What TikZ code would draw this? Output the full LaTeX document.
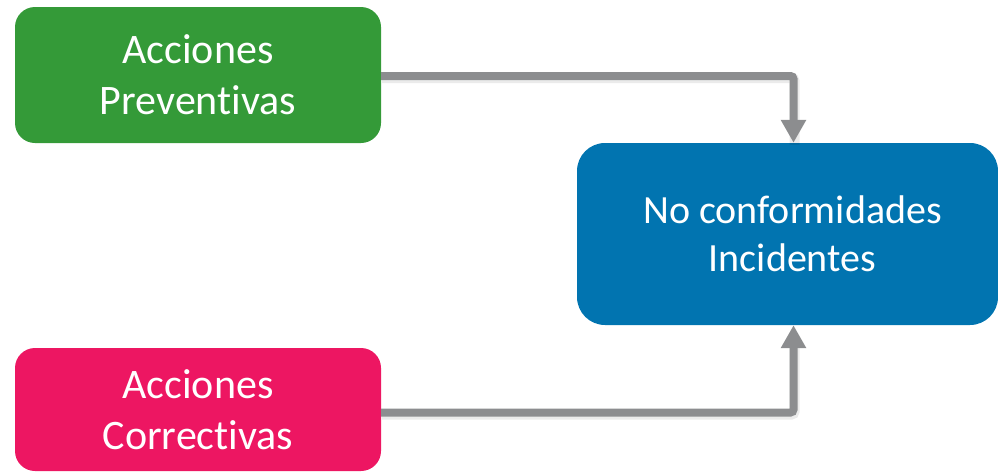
\documentclass[tikz,border=0pt]{standalone}
\usepackage{fontspec}
\setmainfont{Carlito}[Ligatures={NoCommon}]
\usetikzlibrary{arrows.meta}
\definecolor{boxgreen}{RGB}{52,154,56}
\definecolor{boxpink}{RGB}{237,22,98}
\definecolor{boxblue}{RGB}{1,116,176}
\definecolor{linegray}{RGB}{140,141,143}
\tikzset{
  box/.style={rectangle, rounded corners=20pt, draw=none, text=white, align=center, inner sep=0pt},
  conn/.style={draw=linegray, line width=8pt, rounded corners=3pt, -{Triangle[width=24pt,length=23pt]}},
  shadowline/.style={draw=black, opacity=0.08, line width=10pt, rounded corners=3pt}
}
\begin{document}
\begin{tikzpicture}[x=1pt,y=1pt]
\useasboundingbox (0,0) rectangle (998,-472);
\node[box, fill=boxgreen, minimum width=366pt, minimum height=136pt, font=\fontsize{42}{51}\selectfont] (prev) at (198,-75) {Acciones\\Preventivas};
\node[box, fill=boxpink, minimum width=366pt, minimum height=123pt, font=\fontsize{42}{51}\selectfont] (corr) at (198,-409.5) {Acciones\\Correctivas};
\node[box, rounded corners=28pt, fill=boxblue, minimum width=421pt, minimum height=182pt] (nc) at (787.5,-234) {};
\node[text=white, align=center, inner sep=0pt, font=\fontsize{40}{48}\selectfont] (nctext) at ([xshift=5pt]nc.center) {No conformidades\\Incidentes};
\coordinate (ta) at (793.5,-76);
\coordinate (tb) at (793.5,-412.5);
\draw[shadowline] ([shift={(1,-2)}]prev.east |- ta) -- ([shift={(1,-2)}]ta) -- ([shift={(1,-2)}]ta |- nc.north);
\draw[shadowline] ([shift={(1,-2)}]corr.east |- tb) -- ([shift={(1,-2)}]tb) -- ([shift={(1,-18)}]tb |- nc.south);
\draw[conn] (prev.east |- ta) -- (ta) -- (ta |- nc.north);
\draw[conn] (corr.east |- tb) -- (tb) -- (tb |- nc.south);
\end{tikzpicture}
\end{document}
